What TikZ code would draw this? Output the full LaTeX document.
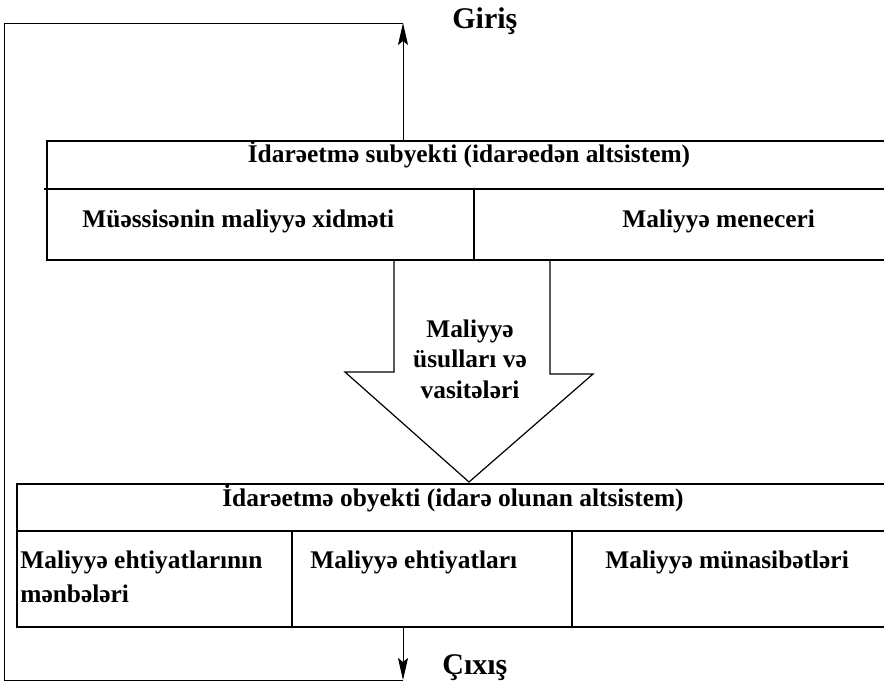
\documentclass[tikz,border=0pt]{standalone}
\usepackage{fontspec}
\setmainfont{Liberation Serif}
\usetikzlibrary{arrows.meta}

\tikzset{
  lbl/.style={inner sep=0, font=\fontsize{12.7}{15.2}\selectfont\bfseries},
  io/.style={inner sep=0, font=\fontsize{15}{16}\selectfont\bfseries},
  frame/.style={line width=0.75pt},
  flow/.style={line width=0.5pt, -{Stealth[length=11pt, width=5pt, inset=2pt]}},
}

\begin{document}
\begin{tikzpicture}[x=0.5pt, y=-0.5pt]
   \useasboundingbox (0,0) rectangle (884,693);
   % subject of control
   \draw[frame] (890,141) -- (47,141) -- (47,260) -- (890,260);
   \draw[frame] (44,189) -- (890,189);
   \draw[frame] (474,189) -- (474,260);
   \node[lbl, anchor=base] (subj) at (469,162) {İdarəetmə subyekti (idarəedən altsistem)};
   \node[lbl, anchor=base west] (serv) at (82,227) {Müəssisənin maliyyə xidməti};
   \node[lbl, anchor=base west] (mgr) at (622,227) {Maliyyə meneceri};
   \coordinate (subjtop) at (403,141);

   % methods and tools
   \draw[line width=0.6pt] (394,260) -- (394,372) -- (345,372) -- (469,482)
      -- (593,374) -- (550,374) -- (550,260);
   \node[lbl, align=center, anchor=base] (tools) at (470,398)
      {Maliyyə\\üsulları və\\vasitələri};

   % object of control
   \draw[frame] (890,484) -- (17,484) -- (17,627) -- (890,627);
   \draw[frame] (17,531) -- (890,531);
   \draw[frame] (292,531) -- (292,627);
   \draw[frame] (572,531) -- (572,627);
   \node[lbl, anchor=base] (obj) at (453,506) {İdarəetmə obyekti (idarə olunan altsistem)};
   \node[lbl, align=left, anchor=base west] (src) at (20,602)
      {Maliyyə ehtiyatlarının\\[1.8pt]mənbələri};
   \node[lbl, anchor=base west] (res) at (310,568) {Maliyyə ehtiyatları};
   \node[lbl, anchor=base west] (rel) at (605,568) {Maliyyə münasibətləri};
   \coordinate (objbot) at (403,627);

   % input, output and feedback
   \coordinate (in) at (403,23);
   \coordinate (out) at (403,680);
   \coordinate (corner) at (4,23);
   \draw[flow] (subjtop) -- (in);
   \draw[flow] (objbot) -- (out);
   \draw[line width=0.5pt] (out) -| (corner) -- (in);
   \node[io, anchor=base west] (gir) at (452,28) {Giriş};
   \node[io, anchor=base west] (cix) at (442,674) {Çıxış};
\end{tikzpicture}
\end{document}
